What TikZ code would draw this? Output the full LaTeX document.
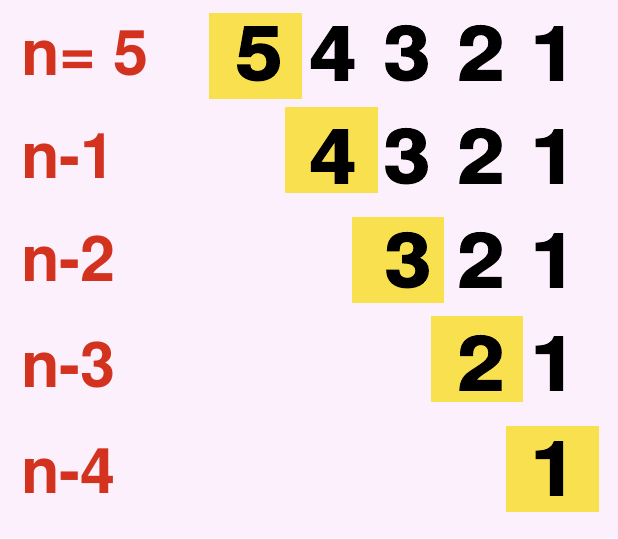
\documentclass[tikz,border=0pt]{standalone}
\usepackage{fontspec}
\setmainfont{TeX Gyre Heros}
\newfontfamily\digfont{TeX Gyre Heros}[BoldFeatures={FakeBold=2}]
\definecolor{bgpink}{HTML}{FBF0FB}
\definecolor{hlyellow}{HTML}{F8E04E}
\definecolor{lblred}{HTML}{D2321E}
\tikzset{
  ybox/.style={fill=hlyellow, draw=none, inner sep=0pt, minimum width=93pt, minimum height=86pt},
  dig/.style={anchor=base, inner sep=0pt, font=\digfont\fontsize{75}{75}\selectfont\bfseries, text=black},
  lbl/.style={anchor=base west, inner sep=0pt, font=\fontsize{63}{63}\selectfont\bfseries, text=lblred}
}
\newcommand{\widedig}[1]{\scalebox{1.12}[1]{#1}}
\begin{document}
\begin{tikzpicture}[x=1pt, y=-1pt]
\fill[bgpink] (0,0) rectangle (618,538);
\useasboundingbox (0,0) rectangle (618,538);
% highlight boxes
\node[ybox] (b1) at (255.5,55.5) {};
\node[ybox] (b2) at (331.5,150) {};
\node[ybox, minimum width=92pt] (b3) at (398,260) {};
\node[ybox, minimum width=92pt] (b4) at (477,358.5) {};
\node[ybox] (b5) at (552.5,468.5) {};
% labels
\node[lbl] (l1) at (21,75) {n= 5};
\node[lbl] (l2) at (21,178) {n-1};
\node[lbl] (l3) at (21,281) {n-2};
\node[lbl] (l4) at (21,387) {n-3};
\node[lbl] (l5) at (21,493) {n-4};
% row 1
\node[dig] (r1d5) at (259,80) {\widedig{5}};
\node[dig] (r1d4) at (333,80) {\widedig{4}};
\node[dig] (r1d3) at (407,80) {\widedig{3}};
\node[dig] (r1d2) at (481,80) {\widedig{2}};
\node[dig] (r1d1) at (554,80) {\widedig{1}};
% row 2
\node[dig] (r2d4) at (333,183) {\widedig{4}};
\node[dig] (r2d3) at (407,183) {\widedig{3}};
\node[dig] (r2d2) at (481,183) {\widedig{2}};
\node[dig] (r2d1) at (554,183) {\widedig{1}};
% row 3
\node[dig] (r3d3) at (408,287) {\widedig{3}};
\node[dig] (r3d2) at (481,287) {\widedig{2}};
\node[dig] (r3d1) at (554,287) {\widedig{1}};
% row 4
\node[dig] (r4d2) at (481,390) {\widedig{2}};
\node[dig] (r4d1) at (554,390) {\widedig{1}};
% row 5
\node[dig] (r5d1) at (554,495) {\widedig{1}};
\end{tikzpicture}
\end{document}
